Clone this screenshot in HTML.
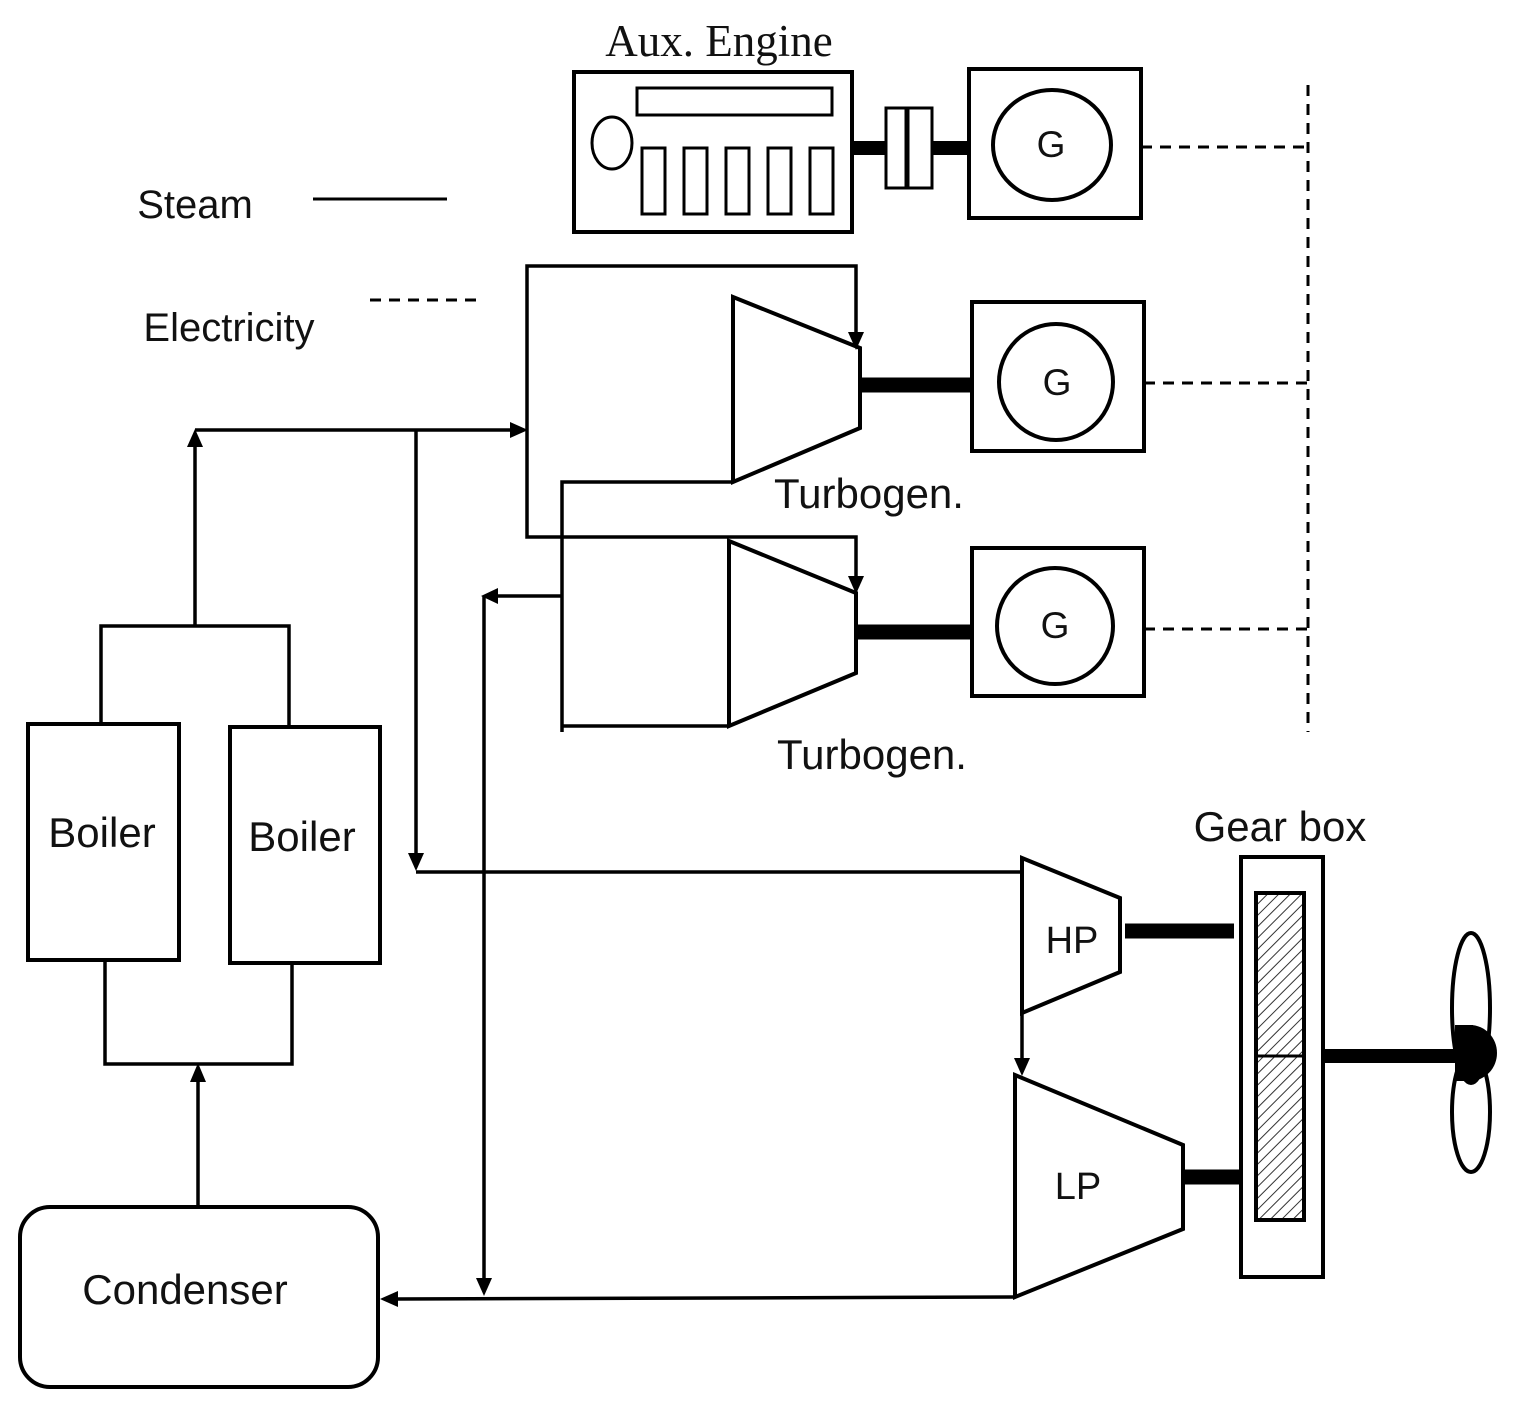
<!DOCTYPE html>
<html><head><meta charset="utf-8"><style>html,body{margin:0;padding:0;background:#fff}svg{display:block}</style></head>
<body>
<svg width="1520" height="1416" viewBox="0 0 1520 1416" xmlns="http://www.w3.org/2000/svg">
<defs>
<pattern id="h" width="8" height="8" patternUnits="userSpaceOnUse" patternTransform="rotate(45)">
<line x1="0" y1="0" x2="0" y2="8" stroke="#333" stroke-width="2"/></pattern>
</defs>
<g fill="none" stroke="#000" stroke-width="4">
<rect x="574" y="72" width="278" height="160"/>
<rect x="637" y="88" width="195" height="27" stroke-width="3"/>
<ellipse cx="612" cy="143" rx="20" ry="26" stroke-width="3"/>
<rect x="642" y="148" width="23" height="66" stroke-width="3"/>
<rect x="684" y="148" width="23" height="66" stroke-width="3"/>
<rect x="726" y="148" width="23" height="66" stroke-width="3"/>
<rect x="768" y="148" width="23" height="66" stroke-width="3"/>
<rect x="810" y="148" width="23" height="66" stroke-width="3"/>
<line x1="852" y1="148" x2="886" y2="148" stroke-width="14"/>
<rect x="886" y="108" width="46" height="80" stroke-width="3"/>
<line x1="907" y1="108" x2="907" y2="188" stroke-width="5"/>
<line x1="932" y1="148" x2="968" y2="148" stroke-width="14"/>
<rect x="969" y="69" width="172" height="149"/>
<ellipse cx="1052" cy="145" rx="59" ry="55"/>
<line x1="313" y1="199" x2="447" y2="199" stroke-width="3"/>
<line x1="370" y1="300" x2="478" y2="300" stroke-width="3" stroke-dasharray="11,8"/>
<g stroke-width="3" stroke-dasharray="11,8">
<line x1="1141" y1="147" x2="1308" y2="147"/>
<line x1="1144" y1="383" x2="1308" y2="383"/>
<line x1="1144" y1="629" x2="1308" y2="629"/>
<line x1="1308" y1="85" x2="1308" y2="732"/>
</g>
<polygon points="733,297 860,348 860,428 733,482"/>
<line x1="860" y1="385" x2="972" y2="385" stroke-width="15"/>
<rect x="972" y="302" width="172" height="149"/>
<ellipse cx="1056" cy="382" rx="57" ry="58"/>
<polygon points="729,541 856,593 856,673 729,726"/>
<line x1="856" y1="632" x2="972" y2="632" stroke-width="15"/>
<rect x="972" y="548" width="172" height="148"/>
<ellipse cx="1055" cy="626" rx="58" ry="58"/>
<polyline points="856,335 856,266 527,266 527,537 856,537 856,580" stroke-width="3.5"/>
<polyline points="733,482 562,482 562,732" stroke-width="3.5"/>
<line x1="562" y1="726" x2="729" y2="726" stroke-width="3.5"/>
<line x1="562" y1="596" x2="496" y2="596" stroke-width="3.5"/>
<line x1="484" y1="596" x2="484" y2="1280" stroke-width="3.5"/>
<rect x="28" y="724" width="151" height="236"/>
<rect x="230" y="727" width="150" height="236"/>
<polyline points="101,724 101,626 289,626 289,727" stroke-width="3.5"/>
<line x1="195" y1="626" x2="195" y2="445" stroke-width="3.5"/>
<polyline points="195,430 514,430" stroke-width="3.5"/>
<line x1="416" y1="430" x2="416" y2="855" stroke-width="3.5"/>
<line x1="416" y1="872" x2="1022" y2="872" stroke-width="3.5"/>
<polyline points="105,960 105,1064 292,1064 292,963" stroke-width="3.5"/>
<line x1="198" y1="1205" x2="198" y2="1078" stroke-width="3.5"/>
<rect x="20" y="1207" width="358" height="180" rx="30"/>
<polygon points="1022,858 1120,898 1120,972 1022,1013"/>
<line x1="1125" y1="931" x2="1234" y2="931" stroke-width="15"/>
<line x1="1022" y1="1013" x2="1022" y2="1060" stroke-width="3.5"/>
<polygon points="1015,1075 1183,1145 1183,1229 1015,1297"/>
<line x1="1183" y1="1177" x2="1241" y2="1177" stroke-width="15"/>
<line x1="1015" y1="1297" x2="396" y2="1299" stroke-width="3.5"/>
<rect x="1241" y="857" width="82" height="420"/>
<rect x="1256" y="893" width="48" height="327" fill="url(#h)"/>
<line x1="1256" y1="1056" x2="1304" y2="1056" stroke-width="3"/>
<line x1="1323" y1="1056" x2="1475" y2="1056" stroke-width="14"/>
<ellipse cx="1471" cy="1008" rx="19" ry="75"/>
<ellipse cx="1471" cy="1112" rx="19" ry="60"/>
</g>
<path d="M1470,1025 A27,28 0 0 1 1470,1081 Z" fill="#000"/>
<rect x="1455" y="1025" width="18" height="56" fill="#000"/>
<g fill="#000">
<polygon points="848,332 864,332 856,350"/>
<polygon points="848,576 864,576 856,594"/>
<polygon points="510,422 510,438 528,430"/>
<polygon points="187,447 203,447 195,429"/>
<polygon points="408,853 424,853 416,871"/>
<polygon points="1014,1058 1030,1058 1022,1076"/>
<polygon points="498,588 498,604 481,596"/>
<polygon points="476,1278 492,1278 484,1296"/>
<polygon points="190,1082 206,1082 198,1063"/>
<polygon points="398,1291 398,1307 380,1299"/>
</g>
<g font-family="'Liberation Sans', 'DejaVu Sans', sans-serif" fill="#111" font-size="42" text-anchor="middle">
<text x="719" y="56" font-family="'Liberation Serif', serif" font-size="45">Aux. Engine</text>
<text x="195" y="218" font-size="40">Steam</text>
<text x="229" y="341" font-size="40">Electricity</text>
<text x="1051" y="157" font-size="37">G</text>
<text x="1057" y="395" font-size="37">G</text>
<text x="1055" y="638" font-size="37">G</text>
<text x="869" y="508">Turbogen.</text>
<text x="872" y="769">Turbogen.</text>
<text x="102" y="847">Boiler</text>
<text x="302" y="851">Boiler</text>
<text x="185" y="1304">Condenser</text>
<text x="1072" y="953" font-size="38">HP</text>
<text x="1078" y="1199" font-size="38">LP</text>
<text x="1280" y="841">Gear box</text>
</g>
</svg>
</body></html>
